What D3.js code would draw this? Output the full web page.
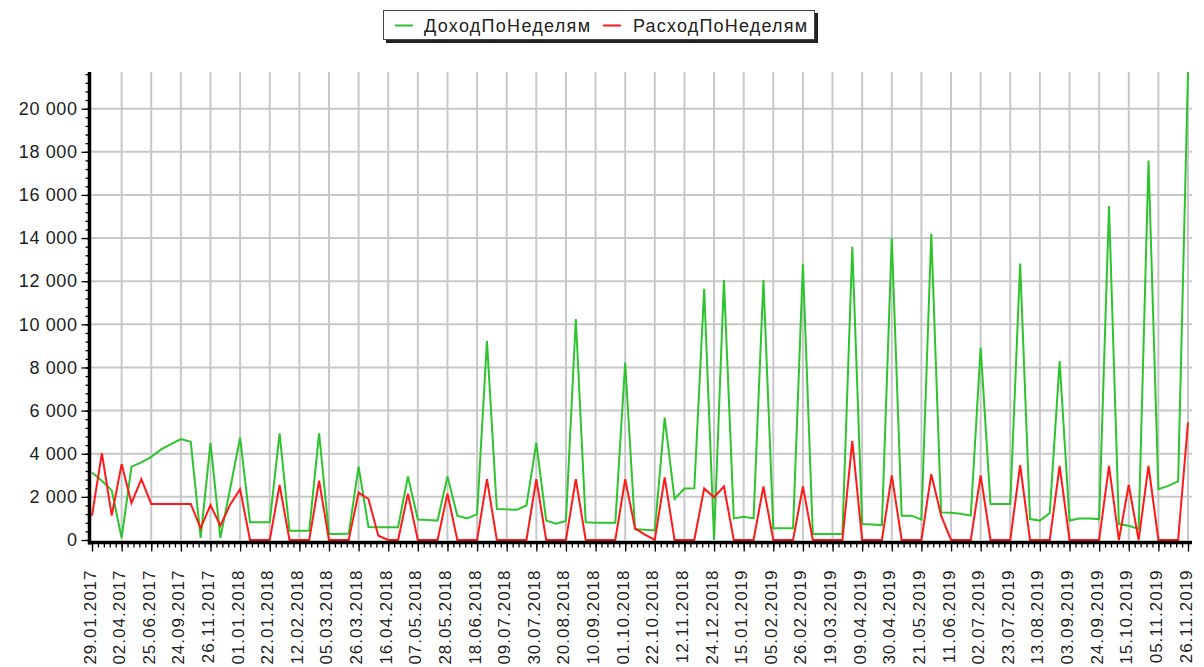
<!DOCTYPE html>
<html>
<head>
<meta charset="utf-8">
<script src="https://cdn.jsdelivr.net/npm/d3@7"></script>
<style>
  body { margin: 0; background: #fff; }
  text { font-family: "Liberation Sans", Arial, sans-serif; fill: #222; }
</style>
</head>
<body>
<div id="chart"></div>
<script>
var seriesNames = ["ДоходПоНеделям", "РасходПоНеделям"];
var seriesColors = ["#2ec42e", "#ff1a1a"];

// one label every third week
var dateLabels = [
  "29.01.2017", "02.04.2017", "25.06.2017", "24.09.2017", "26.11.2017",
  "01.01.2018", "22.01.2018", "12.02.2018", "05.03.2018", "26.03.2018",
  "16.04.2018", "07.05.2018", "28.05.2018", "18.06.2018", "09.07.2018",
  "30.07.2018", "20.08.2018", "10.09.2018", "01.10.2018", "22.10.2018",
  "12.11.2018", "24.12.2018", "15.01.2019", "05.02.2019", "26.02.2019",
  "19.03.2019", "09.04.2019", "30.04.2019", "21.05.2019", "11.06.2019",
  "02.07.2019", "23.07.2019", "13.08.2019", "03.09.2019", "24.09.2019",
  "15.10.2019", "05.11.2019", "26.11.2019"
];

var income = [
  3130, 2750, 2300, 100, 3400, 3600, 3850, 4200, 4450, 4680,
  4550, 100, 4500, 100, 2400, 4750, 820, 820, 820, 4950,
  430, 430, 430, 4950, 280, 280, 300, 3400, 600, 590,
  590, 590, 2950, 950, 930, 900, 2950, 1130, 1000, 1200,
  9230, 1440, 1420, 1400, 1600, 4500, 900, 750, 880, 10250,
  820, 800, 800, 800, 8230, 500, 480, 440, 5680, 1900,
  2390, 2400, 11650, 0, 12050, 1000, 1080, 1000, 12050, 540,
  540, 540, 12780, 280, 280, 280, 280, 13600, 740, 720,
  690, 14000, 1130, 1130, 950, 14200, 1280, 1260, 1220, 1130,
  8920, 1670, 1670, 1670, 12820, 970, 900, 1250, 8300, 900,
  1000, 1000, 970, 15480, 740, 660, 510, 17600, 2360, 2510,
  2720, 21700
];

var expense = [
  1130, 4030, 1130, 3520, 1710, 2820, 1670, 1670, 1670, 1670,
  1670, 550, 1620, 660, 1650, 2360, 0, 0, 0, 2550,
  0, 0, 0, 2750, 0, 0, 0, 2200, 1900, 200,
  0, 0, 2150, 0, 0, 0, 2150, 0, 0, 0,
  2820, 0, 0, 0, 0, 2820, 0, 0, 0, 2820,
  0, 0, 0, 0, 2820, 540, 250, 0, 2900, 0,
  0, 0, 2390, 1980, 2480, 0, 0, 0, 2480, 0,
  0, 0, 2480, 0, 0, 0, 0, 4600, 0, 0,
  0, 3000, 0, 0, 0, 3050, 1130, 0, 0, 0,
  3000, 0, 0, 0, 3470, 0, 0, 0, 3440, 0,
  0, 0, 0, 3440, 0, 2550, 0, 3440, 0, 0,
  0, 5450
];

var yTicks = [0, 2000, 4000, 6000, 8000, 10000, 12000, 14000, 16000, 18000, 20000];
var yMax = 21700;

var width = 1204;
var height = 667;

var svg = d3
  .select("#chart")
  .append("svg")
  .attr("width", width)
  .attr("height", height);

var x = d3.scaleLinear().domain([0, income.length - 1]).range([92, 1188]);
var y = d3.scaleLinear().domain([0, yMax]).range([540, 72]);

var labelIdx = dateLabels.map(function (d, i) {
  return i * 3;
});

var fmt = function (v) {
  return d3.format(",")(v).replace(/,/g, " ");
};

// grid
svg
  .append("g")
  .selectAll("line")
  .data(yTicks.slice(1))
  .enter()
  .append("line")
  .attr("x1", 90)
  .attr("x2", 1192)
  .attr("y1", function (d) { return y(d); })
  .attr("y2", function (d) { return y(d); })
  .style("stroke", "#c8c8c8")
  .style("stroke-width", 2);

svg
  .append("g")
  .selectAll("line")
  .data(labelIdx.slice(1))
  .enter()
  .append("line")
  .attr("x1", function (d) { return x(d); })
  .attr("x2", function (d) { return x(d); })
  .attr("y1", y(yMax))
  .attr("y2", y(0))
  .style("stroke", "#c8c8c8")
  .style("stroke-width", 2);

// series
var line = d3
  .line()
  .x(function (d, i) { return x(i); })
  .y(function (d) { return y(d); });

[income, expense].forEach(function (s, k) {
  svg
    .append("path")
    .datum(s)
    .attr("d", line)
    .style("fill", "none")
    .style("stroke", seriesColors[k])
    .style("stroke-width", 2)
    .style("stroke-linejoin", "miter");
});

// y axis
var yMinor = svg
  .append("g")
  .attr("transform", "translate(89.5,0)")
  .call(
    d3.axisLeft(y).tickValues(d3.range(0, yMax, 400)).tickSize(4).tickFormat("")
  );
var yAxis = svg
  .append("g")
  .attr("transform", "translate(89.5,0)")
  .call(d3.axisLeft(y).tickValues(yTicks).tickSize(8).tickPadding(4).tickFormat(fmt));
yAxis.selectAll("text")
  .style("font-size", "18px")
  .style("letter-spacing", "0.6px")
  .attr("fill", "#222");

// x axis
var xMinor = svg
  .append("g")
  .attr("transform", "translate(0,542.5)")
  .call(
    d3.axisBottom(x)
      .tickValues(d3.range(0, 186).map(function (k) { return k * 0.6; }))
      .tickSize(5)
      .tickFormat("")
  );
var xAxis = svg
  .append("g")
  .attr("transform", "translate(0,542.5)")
  .call(
    d3.axisBottom(x)
      .tickValues(labelIdx)
      .tickSize(9)
      .tickFormat(function (d) { return dateLabels[d / 3]; })
  );
xAxis.selectAll("text")
  .attr("transform", "rotate(-90)")
  .attr("text-anchor", "end")
  .attr("x", -27)
  .attr("y", 3)
  .attr("dy", 0)
  .style("font-size", "17px")
  .style("letter-spacing", "1px")
  .attr("fill", "#222");

[yMinor, yAxis, xMinor, xAxis].forEach(function (g) {
  g.select(".domain").remove();
  g.selectAll("line").style("stroke", "#000").style("stroke-width", 1.3);
});

// axis lines
svg.append("line")
  .attr("x1", 89.5).attr("x2", 89.5)
  .attr("y1", y(yMax)).attr("y2", 544.5)
  .style("stroke", "#000").style("stroke-width", 3.5);
svg.append("line")
  .attr("x1", 88).attr("x2", 1192)
  .attr("y1", 542.5).attr("y2", 542.5)
  .style("stroke", "#000").style("stroke-width", 3.5);

// legend
var legend = svg.append("g");
legend.append("rect")
  .attr("x", 386).attr("y", 13).attr("width", 432).attr("height", 30)
  .style("fill", "#222");
legend.append("rect")
  .attr("x", 383.5).attr("y", 10.5).attr("width", 431).attr("height", 29)
  .style("fill", "#fff").style("stroke", "#444").style("stroke-width", 1);

var legendX = [[395, 424, 166], [603, 633, 174]];
seriesNames.forEach(function (name, k) {
  legend.append("line")
    .attr("x1", legendX[k][0]).attr("x2", legendX[k][0] + 18)
    .attr("y1", 25.5).attr("y2", 25.5)
    .style("stroke", seriesColors[k]).style("stroke-width", 2);
  legend.append("text")
    .attr("x", legendX[k][1]).attr("y", 32)
    .attr("textLength", legendX[k][2])
    .attr("lengthAdjust", "spacing")
    .style("font-size", "18px")
    .text(name);
});
</script>
</body>
</html>
